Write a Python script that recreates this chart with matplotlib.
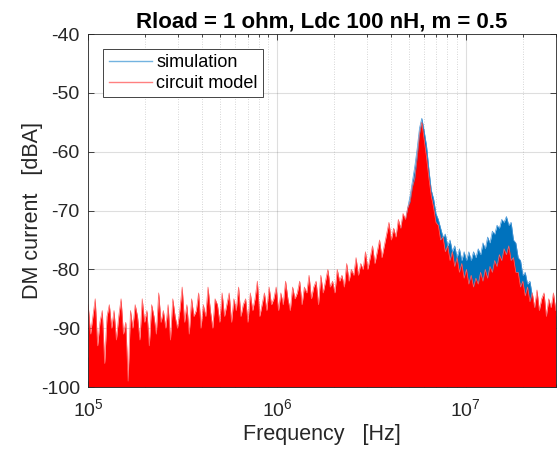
import numpy as np
import matplotlib.pyplot as plt
from matplotlib.ticker import LogLocator, NullFormatter

# frequency range of the spectrum (log spaced bins, 1e5 .. 3e7 Hz)
f_start = 1e5
f_stop = 3e7

# circuit model, dB values (spike tops / valleys)
red_db = [
    -86, -91, -88, -85, -93, -89, -87, -96, -88, -86,
    -90, -87, -92, -88, -85, -91, -89, -99, -87, -90,
    -86, -88, -92, -85, -89, -87, -93, -86, -88, -91,
    -84, -89, -87, -90, -86, -92, -85, -88, -90, -87,
    -83, -89, -86, -91, -85, -88, -87, -84, -90, -86,
    -88, -83, -87, -90, -85, -86, -89, -84, -88, -86,
    -84, -89, -85, -87, -83, -88, -86, -85, -89, -84,
    -87, -85, -82, -88, -86, -84, -87, -83, -86, -85,
    -83, -87, -84, -86, -82, -85, -87, -83, -85, -84,
    -82, -86, -83, -84, -81, -85, -83, -82, -86, -81,
    -84, -82, -80, -83, -82, -84, -80, -82, -81, -83,
    -79, -82, -80, -81, -78, -81, -79, -80, -77, -80,
    -78, -76, -79, -77, -75, -78, -76, -74, -72, -75,
    -73, -74.5, -71.5, -73, -70.5, -71.5, -69.5, -68.5, -66, -64.5,
    -61, -57, -55, -58, -61, -64.5, -67.5, -69.5, -72, -72.5,
    -75, -74.5, -77, -76, -78.5, -77, -79.5, -78, -80.5, -79,
    -81.5, -80, -82.5, -81, -83, -81.5, -82.5, -80.5, -82, -80,
    -81.5, -79.5, -80.5, -78.5, -79.5, -77.5, -78.5, -76.5, -77.5, -76,
    -78.5, -78, -80.5, -80.5, -83, -82, -84.5, -83, -85.5, -84,
    -86.5, -83.5, -87, -85, -84, -88, -85, -86.5, -84, -87,
]

# simulation, same bins (hidden behind the red below ~3 MHz)
blue_db = [
    -95, -96, -95, -94, -97, -95, -96, -98, -95, -94,
    -96, -95, -97, -96, -94, -96, -95, -100, -95, -96,
    -94, -95, -97, -94, -96, -95, -97, -94, -95, -96,
    -93, -95, -94, -96, -94, -97, -93, -95, -96, -94,
    -92, -95, -93, -96, -93, -95, -94, -92, -96, -93,
    -94, -91, -94, -96, -92, -93, -95, -92, -94, -93,
    -91, -95, -92, -93, -91, -94, -92, -92, -95, -91,
    -93, -92, -89, -94, -92, -91, -93, -90, -92, -92,
    -89, -93, -90, -92, -88, -91, -93, -89, -91, -90,
    -88, -92, -89, -90, -87, -91, -89, -88, -92, -87,
    -89, -87, -85, -88, -87, -89, -85, -87, -86, -88,
    -83, -86, -84, -85, -82, -85, -83, -84, -81, -84,
    -81, -79, -82, -80, -78, -80, -78, -76.5, -75, -77,
    -75, -75.5, -73, -74, -71.5, -72, -69.5, -67.5, -65, -62.5,
    -59.5, -56, -54.3, -56.5, -59, -63, -66.5, -68, -70.5, -71.5,
    -73, -74.5, -74, -76, -75, -77, -76, -78, -76.5, -78.5,
    -77, -78.5, -77, -78.5, -77, -78, -76.5, -77.5, -75.5, -76.5,
    -74.5, -75.5, -73.5, -74, -72.5, -73, -71.5, -72, -71, -72.5,
    -72, -75, -75.5, -78, -78.5, -81, -80.5, -82.5, -82, -84.5,
    -87.5, -85, -88, -86, -85.5, -89, -86.5, -88, -85.5, -88,
]

freq = np.geomspace(f_start, f_stop, len(red_db))

blue = (0, 0.447, 0.741)
red = (1, 0, 0)
dark = (0.15, 0.15, 0.15)

plt.rcParams['font.family'] = ['Liberation Sans', 'DejaVu Sans']
plt.rcParams['axes.unicode_minus'] = False

fig = plt.figure(figsize=(5.58, 4.61), dpi=100)
ax = fig.add_axes([0.158, 0.1605, 0.838, 0.7655])

# simulation (behind)
ax.fill_between(freq, -100, blue_db, color=blue, lw=0, zorder=2)
ax.plot(freq, blue_db, color=(0.3, 0.6, 0.85), lw=0.5, zorder=2)
ax.plot([], [], color=(0.45, 0.7, 0.88), lw=1.0, label='simulation')

# circuit model (on top)
ax.fill_between(freq, -100, red_db, color=red, lw=0, zorder=3)
ax.plot(freq, red_db, color=(1, 0.4, 0.4), lw=0.5, zorder=3)
ax.plot([], [], color=(1, 0.5, 0.5), lw=1.0, label='circuit model')

ax.set_xscale('log')
ax.set_xlim(f_start, f_stop)
ax.set_ylim(-100, -40)
ax.set_yticks([-100, -90, -80, -70, -60, -50, -40])
ax.xaxis.set_minor_locator(LogLocator(base=10, subs=np.arange(2, 10), numticks=20))
ax.xaxis.set_minor_formatter(NullFormatter())

# matlab style grid and box
ax.grid(True, which='major', color=dark, alpha=0.15, lw=0.8)
ax.grid(True, which='minor', axis='x', color=dark, alpha=0.25,
        lw=0.6, ls=(0, (1, 2)))
ax.set_axisbelow(True)
for s in ax.spines.values():
    s.set_color(dark)
    s.set_linewidth(0.6)
    s.set_zorder(5)
ax.tick_params(which='both', direction='in', top=True, right=True,
               colors=dark, labelsize=14, width=0.6)
ax.tick_params(which='major', length=4)
ax.tick_params(which='minor', length=2)
ax.tick_params(axis='x', pad=8)
ax.tick_params(axis='y', pad=6)

ax.set_xlabel('Frequency   [Hz]', fontsize=15.5, color=dark, labelpad=3)
ax.set_ylabel('DM current   [dBA]', fontsize=15.5, color=dark, labelpad=-2)
ax.set_title('Rload = 1 ohm, Ldc 100 nH, m = 0.5', fontsize=16, fontweight='bold', pad=5)

leg = ax.legend(loc='upper left', bbox_to_anchor=(0.032, 0.958), fontsize=13,
                frameon=True, fancybox=False, framealpha=1, edgecolor=dark,
                handlelength=2.4, borderpad=0.3, labelspacing=0.2, handletextpad=0.25,
                borderaxespad=0)
leg.get_frame().set_linewidth(0.6)
leg.set_zorder(10)

fig.savefig('out.png', dpi=100)
